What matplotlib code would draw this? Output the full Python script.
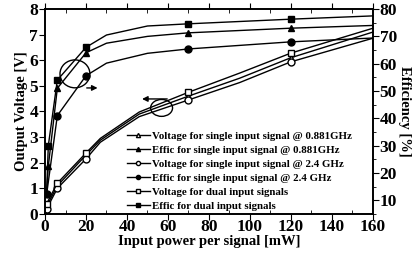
import matplotlib
matplotlib.use('Agg')
import matplotlib.pyplot as plt
from matplotlib.patches import Ellipse

plt.rcParams['font.family'] = 'Liberation Serif'
plt.rcParams['font.weight'] = 'bold'

# voltage curves (left axis)
xV = [0.8, 6, 20, 27, 46, 70, 95, 120, 160]
vDual = [0.4, 1.2, 2.38, 2.95, 3.98, 4.75, 5.5, 6.28, 7.25]
v881 = [0.3, 1.1, 2.3, 2.88, 3.9, 4.6, 5.3, 6.1, 7.1]
v24 = [0.2, 1.0, 2.15, 2.8, 3.8, 4.45, 5.13, 5.94, 6.86]
markV = [0, 1, 2, 5, 7]

# efficiency curves (right axis)
xE = [0.8, 1.6, 6, 20, 30, 50, 70, 120, 160]
eDual = [13.5, 30, 54, 66, 70.5, 73.8, 74.6, 76.3, 77.5]
e881 = [12.8, 22.5, 51, 64, 67.5, 70, 71.3, 73, 74]
xE24 = [0.8, 6, 20, 30, 50, 70, 120, 160]
e24 = [12.3, 41, 55.6, 60.2, 63.8, 65.4, 68, 69.4]
markE = [1, 2, 3, 6, 7]
markE24 = [0, 1, 2, 5, 6]

fig = plt.figure(figsize=(4.17, 2.59), dpi=100)
ax = fig.add_axes([0.108, 0.174, 0.786, 0.791])
ax2 = ax.twinx()

lw = 1.0
ms = 5
l1, = ax.plot(xV, v881, '-', color='k', lw=lw, marker='^', mfc='white', mec='k', ms=ms, markevery=markV,
              label='Voltage for single input signal @ 0.881GHz')
l3, = ax.plot(xV, v24, '-', color='k', lw=lw, marker='o', mfc='white', mec='k', ms=ms, markevery=markV,
              label='Voltage for single input signal @ 2.4 GHz')
l5, = ax.plot(xV, vDual, '-', color='k', lw=lw, marker='s', mfc='white', mec='k', ms=ms, markevery=markV,
              label='Voltage for dual input signals')
l2, = ax2.plot(xE, e881, '-', color='k', lw=lw, marker='^', ms=ms, markevery=markE,
               label='Effic for single input signal @ 0.881GHz')
l4, = ax2.plot(xE24, e24, '-', color='k', lw=lw, marker='o', ms=ms, markevery=markE24,
               label='Effic for single input signal @ 2.4 GHz')
l6, = ax2.plot(xE, eDual, '-', color='k', lw=lw, marker='s', ms=ms, markevery=markE,
               label='Effic for dual input signals')

ax.set_xlim(0, 160)
ax.set_ylim(0, 8)
ax2.set_ylim(5, 80)

ax.set_xticks(range(0, 161, 20))
ax.set_xticks(range(0, 161, 10), minor=True)
ax.set_yticks(range(0, 9))
ax2.set_yticks(range(10, 81, 10))
ax2.set_yticks(range(5, 81, 5), minor=True)

ax.tick_params(axis='x', which='major', direction='out', length=4, labelsize=12.5, pad=0, top=True)
ax.tick_params(axis='x', which='minor', direction='in', length=3, top=True)
ax.tick_params(axis='y', which='major', direction='out', length=4, labelsize=12.5, pad=1)
ax2.tick_params(axis='y', which='major', direction='out', length=4, labelsize=12.5, pad=1)
ax2.tick_params(axis='y', which='minor', direction='out', length=2)
for a in (ax, ax2):
    for s in a.spines.values():
        s.set_linewidth(1.2)

ax.set_xlabel('Input power per signal [mW]', fontsize=10.5, fontweight='bold', labelpad=0)
ax.set_ylabel('Output Voltage [V]', fontsize=10.5, fontweight='bold', labelpad=1)
ax2.set_ylabel('Efficiency [%]', fontsize=10.5, fontweight='bold', rotation=-90, labelpad=10)

# circles with arrows pointing at the axes
ax.add_patch(Ellipse((14.6, 5.47), 14.6, 1.09, fill=False, ec='k', lw=1.0))
ax.annotate('', xy=(27, 4.92), xytext=(19, 4.92),
            arrowprops=dict(arrowstyle='-|>', color='k', lw=1.0, mutation_scale=8))
ax.add_patch(Ellipse((56.9, 4.14), 10.7, 0.66, fill=False, ec='k', lw=1.0))
ax.annotate('', xy=(46, 4.49), xytext=(61, 4.49),
            arrowprops=dict(arrowstyle='-|>', color='k', lw=1.0, mutation_scale=8))

ax.legend([l1, l2, l3, l4, l5, l6], [h.get_label() for h in [l1, l2, l3, l4, l5, l6]],
          loc='upper left', bbox_to_anchor=(0.25, 0.405), frameon=False,
          prop={'size': 7.8, 'weight': 'bold'}, handlelength=2.1, handletextpad=0.2,
          labelspacing=0.42, borderpad=0, borderaxespad=0, markerscale=0.6)

fig.savefig('out.png', dpi=100)
